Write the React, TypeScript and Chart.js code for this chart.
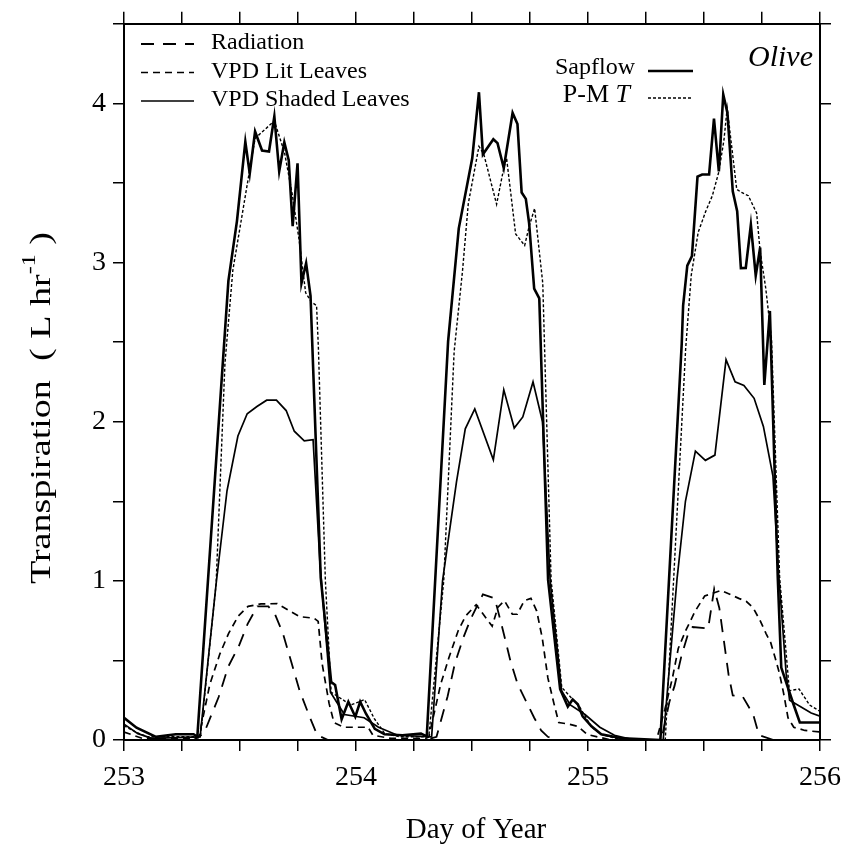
import React, { useEffect, useRef } from 'react';
import { Chart, registerables } from 'chart.js';

Chart.register(...registerables);

const SERIF = '"Liberation Serif", "Times New Roman", serif';

// ---------- data (day of year, transpiration L/hr) ----------
const sapflowDay = [
  253.0, 253.054, 253.138, 253.223, 253.3, 253.316, 253.45, 253.487, 253.523, 253.542,
  253.565, 253.595, 253.625, 253.648, 253.669, 253.691, 253.71, 253.727, 253.748, 253.765,
  253.785, 253.804, 253.848, 253.893, 253.91, 253.938, 253.967, 253.997, 254.018, 254.043,
  254.081, 254.123, 254.2, 254.28, 254.305, 254.397, 254.443, 254.482, 254.501, 254.53,
  254.547, 254.592, 254.61, 254.637, 254.675, 254.696, 254.714, 254.732, 254.746, 254.768,
  254.79, 254.828, 254.88, 254.913, 254.934, 254.956, 254.977, 255.015, 255.057, 255.15,
  255.312, 255.404, 255.41, 255.428, 255.448, 255.472, 255.492, 255.522, 255.543, 255.564,
  255.583, 255.601, 255.624, 255.643, 255.659, 255.68, 255.702, 255.723, 255.742, 255.76,
  255.784, 255.818, 255.833, 255.886, 255.913, 256.0,
];
const sapflowValue = [
  0.14, 0.077, 0.02, 0.036, 0.036, 0.02, 2.885, 3.262, 3.759, 3.559,
  3.823, 3.704, 3.698, 3.918, 3.573, 3.756, 3.643, 3.229, 3.623, 2.87,
  2.996, 2.791, 1.02, 0.364, 0.345, 0.13, 0.24, 0.146, 0.24, 0.165,
  0.07, 0.036, 0.03, 0.04, 0.023, 2.505, 3.215, 3.51, 3.655, 4.07,
  3.68, 3.775, 3.75, 3.594, 3.94, 3.87, 3.44, 3.4, 3.25, 2.836,
  2.775, 1.006, 0.32, 0.21, 0.255, 0.224, 0.149, 0.086, 0.036, 0.01,
  0.0, 2.49, 2.73, 2.98, 3.04, 3.54, 3.553, 3.554, 3.905, 3.573,
  4.056, 3.94, 3.447, 3.322, 2.965, 2.966, 3.237, 2.918, 3.094, 2.231,
  2.696, 1.02, 0.455, 0.223, 0.11, 0.11,
];

const pmDay = [
  253.0, 253.05, 253.1, 253.25, 253.329, 253.397, 253.435, 253.469, 253.534, 253.565,
  253.648, 253.692, 253.725, 253.754, 253.783, 253.809, 253.83, 253.838, 253.868, 253.893,
  253.978, 254.037, 254.079, 254.124, 254.19, 254.3, 254.314, 254.378, 254.423, 254.459,
  254.484, 254.53, 254.551, 254.606, 254.637, 254.649, 254.688, 254.727, 254.746, 254.77,
  254.805, 254.841, 254.887, 254.963, 255.016, 255.058, 255.15, 255.333, 255.421, 255.445,
  255.475, 255.507, 255.536, 255.564, 255.586, 255.6, 255.616, 255.641, 255.662, 255.691,
  255.727, 255.742, 255.766, 255.791, 255.826, 255.868, 255.91, 255.955, 256.0,
];
const pmValue = [
  0.09, 0.05, 0.02, 0.02, 0.02, 0.98, 2.363, 2.95, 3.515, 3.78,
  3.89, 3.69, 3.43, 3.15, 2.81, 2.75, 2.73, 2.46, 1.0, 0.3,
  0.22, 0.254, 0.134, 0.04, 0.02, 0.02, 0.023, 0.997, 2.44, 2.946,
  3.37, 3.73, 3.68, 3.366, 3.594, 3.657, 3.18, 3.107, 3.226, 3.34,
  2.87, 1.006, 0.33, 0.21, 0.08, 0.035, 0.0, 0.0, 2.46, 2.92,
  3.19, 3.32, 3.42, 3.57, 3.77, 3.97, 3.77, 3.46, 3.44, 3.42,
  3.31, 3.07, 2.84, 2.52, 1.02, 0.31, 0.32, 0.22, 0.18,
];

const shadedDay = [
  253.0, 253.06, 253.12, 253.328, 253.397, 253.444, 253.491, 253.531, 253.573, 253.615,
  253.657, 253.699, 253.734, 253.777, 253.815, 253.845, 253.89, 253.95, 254.035, 254.097,
  254.179, 254.326, 254.373, 254.392, 254.433, 254.471, 254.512, 254.592, 254.637, 254.682,
  254.719, 254.763, 254.804, 254.837, 254.886, 254.924, 254.987, 255.051, 255.114, 255.2,
  255.324, 255.384, 255.42, 255.463, 255.506, 255.547, 255.595, 255.634, 255.672, 255.716,
  255.756, 255.797, 255.821, 255.854, 255.869, 255.962, 256.0,
];
const shadedValue = [
  0.1, 0.04, 0.01, 0.02, 0.98, 1.566, 1.91, 2.05, 2.095, 2.135,
  2.135, 2.07, 1.94, 1.88, 1.887, 1.1, 0.3, 0.16, 0.14, 0.08,
  0.03, 0.02, 0.998, 1.2, 1.62, 1.955, 2.08, 1.76, 2.2, 1.96,
  2.03, 2.25, 2.0, 1.0, 0.31, 0.22, 0.16, 0.08, 0.03, 0.0,
  0.0, 1.016, 1.5, 1.815, 1.757, 1.79, 2.39, 2.25, 2.228, 2.147,
  1.97, 1.66, 1.06, 0.42, 0.25, 0.17, 0.15,
];

const litDay = [
  253.0, 253.08, 253.3, 253.324, 253.37, 253.413, 253.451, 253.493, 253.535, 253.59,
  253.66, 253.715, 253.757, 253.82, 253.837, 253.854, 253.884, 253.905, 253.947, 254.052,
  254.073, 254.15, 254.3, 254.314, 254.365, 254.4, 254.44, 254.473, 254.518, 254.587,
  254.612, 254.64, 254.674, 254.695, 254.725, 254.754, 254.779, 254.803, 254.827, 254.853,
  254.874, 254.916, 254.958, 254.996, 255.1, 255.295, 255.331, 255.364, 255.389, 255.422,
  255.462, 255.503, 255.574, 255.65, 255.683, 255.712, 255.742, 255.767, 255.788, 255.807,
  255.825, 255.843, 255.862, 255.887, 255.935, 256.0,
];
const litValue = [
  0.05, 0.01, 0.01, 0.025, 0.35, 0.54, 0.67, 0.78, 0.84, 0.855,
  0.857, 0.81, 0.775, 0.765, 0.745, 0.48, 0.23, 0.11, 0.08, 0.08,
  0.03, 0.01, 0.01, 0.02, 0.35, 0.515, 0.685, 0.78, 0.85, 0.715,
  0.835, 0.875, 0.79, 0.79, 0.875, 0.89, 0.81, 0.64, 0.39, 0.23,
  0.11, 0.1, 0.085, 0.035, 0.0, 0.0, 0.19, 0.39, 0.575, 0.69,
  0.81, 0.905, 0.94, 0.89, 0.87, 0.83, 0.75, 0.67, 0.61, 0.515,
  0.42, 0.295, 0.14, 0.08, 0.06, 0.05,
];

const radiationDay = [
  253.0, 253.3, 253.344, 253.408, 253.449, 253.495, 253.533, 253.575, 253.622, 253.651,
  253.685, 253.723, 253.757, 253.799, 253.833, 253.88, 254.3, 254.347, 254.395, 254.426,
  254.462, 254.494, 254.547, 254.598, 254.629, 254.666, 254.697, 254.734, 254.768, 254.798,
  254.827, 254.87, 255.316, 255.351, 255.373, 255.403, 255.43, 255.451, 255.518, 255.544,
  255.566, 255.606, 255.624, 255.666, 255.692, 255.713, 255.737, 255.8, 256.0,
];
const radiationValue = [
  0.0, 0.0, 0.04, 0.27, 0.46, 0.59, 0.73, 0.84, 0.84, 0.79,
  0.67, 0.48, 0.31, 0.15, 0.03, 0.0, 0.0, 0.02, 0.275, 0.48,
  0.64, 0.76, 0.915, 0.89, 0.715, 0.495, 0.35, 0.24, 0.14, 0.06,
  0.02, 0.0, 0.0, 0.24, 0.34, 0.53, 0.66, 0.71, 0.7, 0.95,
  0.83, 0.41, 0.28, 0.275, 0.21, 0.155, 0.03, 0.0, 0.0,
];

const dayTicks = [253, 254, 255, 256];
const transpirationTicks = [0, 1, 2, 3, 4];
const leftLegendLabels = ['Radiation', 'VPD Lit Leaves', 'VPD Shaded Leaves'];
const rightLegendLabels = ['Sapflow', 'P-M'];
const rightLegendItalic = ['', 'T'];
const panelLabel = 'Olive';
const xTitle = 'Day of Year';
const yTitleMain = 'Transpiration  ( L hr';
const yTitleSup = '-1';
const yTitleEnd = ' )';

const toPoints = (days: number[], vals: number[]) => days.map((d, i) => ({ x: d, y: vals[i] }));

const PLOT = { left: 124, right: 837, top: 22, bottom: 740, width: 851, height: 848 };

const decorations = {
  id: 'decorations',
  afterDraw(chart: any) {
    const ctx = chart.ctx as CanvasRenderingContext2D;
    const ds = chart.data.datasets;
    const drawSample = (d: any, x1: number, x2: number, y: number) => {
      ctx.save();
      ctx.strokeStyle = '#000';
      ctx.lineWidth = d.borderWidth;
      ctx.setLineDash(d.borderDash || []);
      ctx.beginPath();
      ctx.moveTo(x1, y);
      ctx.lineTo(x2, y);
      ctx.stroke();
      ctx.restore();
    };
    ctx.save();
    ctx.fillStyle = '#000';
    ctx.textBaseline = 'middle';
    // left legend (radiation, lit, shaded are datasets 4,3,2)
    ctx.font = `24px ${SERIF}`;
    ctx.textAlign = 'left';
    const leftIdx = [4, 3, 2];
    leftLegendLabels.forEach((label, i) => {
      const y = 43 + i * 28.5;
      drawSample(ds[leftIdx[i]], 141, 194, y + 1);
      ctx.fillText(label, 211, y);
    });
    // right legend (sapflow = 0, P-M T = 1)
    const rightY = [68, 95];
    rightLegendLabels.forEach((label, i) => {
      const y = rightY[i];
      drawSample(ds[i], 648, 693, y + 3);
      ctx.textAlign = 'right';
      if (rightLegendItalic[i]) {
        ctx.font = `italic 26px ${SERIF}`;
        const w = ctx.measureText(rightLegendItalic[i]).width;
        ctx.fillText(rightLegendItalic[i], 630, y);
        ctx.font = `26px ${SERIF}`;
        ctx.fillText(label + ' ', 630 - w, y);
      } else {
        ctx.font = `24px ${SERIF}`;
        ctx.fillText(label, 635, y);
      }
    });
    // panel label
    ctx.font = `italic 30px ${SERIF}`;
    ctx.textAlign = 'left';
    ctx.fillText(panelLabel, 748, 58);
    // x title
    ctx.font = `29px ${SERIF}`;
    ctx.textAlign = 'center';
    ctx.fillText(xTitle, 476, 830);
    // y title, rotated and stretched along its length like the scan
    ctx.translate(42, 408);
    ctx.rotate(-Math.PI / 2);
    ctx.font = `30px ${SERIF}`;
    const wMain = ctx.measureText(yTitleMain).width;
    ctx.font = `19px ${SERIF}`;
    const wSup = ctx.measureText(yTitleSup).width;
    ctx.font = `30px ${SERIF}`;
    const wEnd = ctx.measureText(yTitleEnd).width;
    const total = wMain + wSup + wEnd;
    const stretch = 352 / total;
    ctx.scale(stretch, 1);
    let x = -total / 2;
    ctx.textAlign = 'left';
    ctx.fillText(yTitleMain, x, 0);
    x += wMain;
    ctx.font = `19px ${SERIF}`;
    ctx.fillText(yTitleSup, x, -12);
    x += wSup;
    ctx.font = `30px ${SERIF}`;
    ctx.fillText(yTitleEnd, x, 0);
    ctx.restore();
  },
};

export default function App() {
  const canvasRef = useRef<HTMLCanvasElement | null>(null);

  useEffect(() => {
    document.body.style.margin = '0';
    const canvas = canvasRef.current;
    if (!canvas) return;
    const axisCommon = {
      type: 'linear' as const,
      grid: { drawOnChartArea: false, drawTicks: true, tickLength: 11, color: '#000', lineWidth: 1.5 },
      border: { display: true, color: '#000', width: 2 },
    };
    const chart = new Chart(canvas, {
      type: 'line',
      data: {
        datasets: [
          { label: 'Sapflow', data: toPoints(sapflowDay, sapflowValue), borderColor: '#000', borderWidth: 2.6, borderDash: [], xAxisID: 'x', yAxisID: 'y' },
          { label: 'P-M T', data: toPoints(pmDay, pmValue), borderColor: '#000', borderWidth: 1.4, borderDash: [3, 2], xAxisID: 'x', yAxisID: 'y' },
          { label: 'VPD Shaded Leaves', data: toPoints(shadedDay, shadedValue), borderColor: '#000', borderWidth: 1.7, borderDash: [], xAxisID: 'x', yAxisID: 'y' },
          { label: 'VPD Lit Leaves', data: toPoints(litDay, litValue), borderColor: '#000', borderWidth: 1.7, borderDash: [7, 5], xAxisID: 'x', yAxisID: 'y' },
          { label: 'Radiation', data: toPoints(radiationDay, radiationValue), borderColor: '#000', borderWidth: 1.8, borderDash: [13, 9], xAxisID: 'x', yAxisID: 'y' },
        ],
      },
      options: {
        responsive: false,
        animation: false,
        devicePixelRatio: 1,
        layout: { padding: 0 },
        elements: { point: { radius: 0 }, line: { tension: 0, fill: false } },
        plugins: { legend: { display: false }, tooltip: { enabled: false }, title: { display: false } },
        scales: {
          x: {
            ...axisCommon,
            position: 'bottom',
            min: 253,
            max: 256,
            afterFit: (s: any) => { s.height = PLOT.height - PLOT.bottom; },
            ticks: {
              stepSize: 0.25,
              autoSkip: false,
              maxRotation: 0,
              padding: 10,
              color: '#000',
              font: { family: SERIF, size: 28 },
              callback: (v: any) => (dayTicks.includes(Number(v)) ? String(v) : ''),
            },
          },
          x2: {
            ...axisCommon,
            position: 'top',
            min: 253,
            max: 256,
            grid: { ...axisCommon.grid, tickLength: 12 },
            afterFit: (s: any) => { s.height = PLOT.top; },
            ticks: { stepSize: 0.25, autoSkip: false, display: false },
          },
          y: {
            ...axisCommon,
            position: 'left',
            min: 0,
            max: 4.5,
            afterFit: (s: any) => { s.width = PLOT.left; },
            ticks: {
              stepSize: 0.5,
              autoSkip: false,
              padding: 7,
              color: '#000',
              font: { family: SERIF, size: 28 },
              callback: (v: any) => (transpirationTicks.includes(Number(v)) ? String(v) : ''),
            },
          },
          y2: {
            ...axisCommon,
            position: 'right',
            min: 0,
            max: 4.5,
            afterFit: (s: any) => { s.width = PLOT.width - PLOT.right; },
            ticks: { stepSize: 0.5, autoSkip: false, display: false },
          },
        },
      },
      plugins: [decorations],
    } as any);
    return () => chart.destroy();
  }, []);

  return (
    <div style={{ width: PLOT.width, height: PLOT.height, background: '#fff' }}>
      <canvas ref={canvasRef} width={PLOT.width} height={PLOT.height} style={{ display: 'block' }} />
    </div>
  );
}
